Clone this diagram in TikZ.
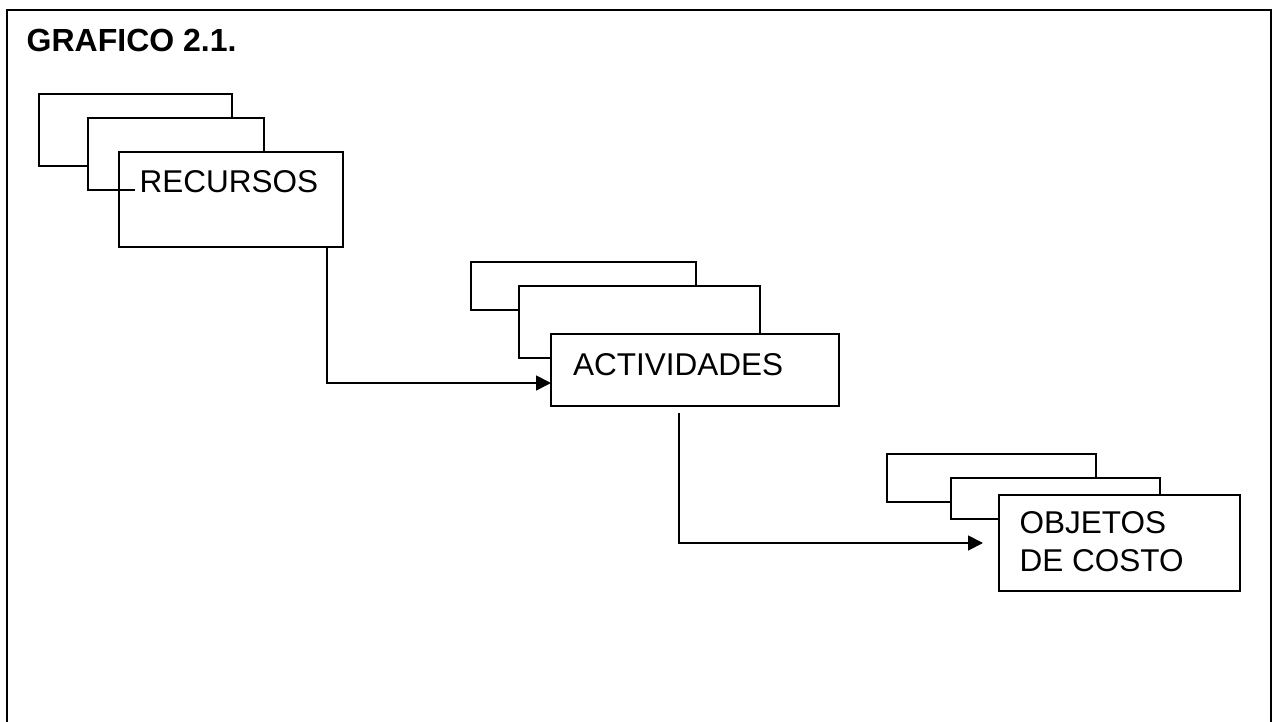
\documentclass[tikz,border=0pt]{standalone}
\usepackage{fontspec}
\setmainfont{Liberation Sans}
\usetikzlibrary{positioning, arrows.meta}
\tikzstyle{caja} = [rectangle, draw, line width=1.8pt, fill=white, inner sep=0pt, outer sep=0pt, anchor=north west]
\tikzstyle{texto} = [inner sep=0pt, anchor=base west, align=left, font=\fontsize{31.5}{38}\selectfont]
\tikzstyle{flecha} = [line width=1.8pt, -{Triangle[length=15pt,width=15pt]}]

\begin{document}
\begin{tikzpicture}[x=1pt, y=-1pt]
\useasboundingbox (0,0) rectangle (1277,722);
\draw [line width=2pt] (7,722) -- (7,10) -- (1271,10) -- (1271,722);

\node [texto, font=\fontsize{32}{38}\selectfont\bfseries] (titulo) at (26.5,52) {GRAFICO 2.1.};

\node [caja, minimum width=193pt, minimum height=72pt] (rec1) at (39,94) {};
\node [caja, minimum width=176pt, minimum height=72pt] (rec2) at (88,118) {};
\node [caja, minimum width=224pt, minimum height=95pt] (rec) at (119,152) {};
\draw [line width=1.8pt] (rec.west |- rec2.south) -- ++(16,0);
\node [texto] (rectxt) at ([xshift=20.5pt,yshift=-41pt]rec.north west) {RECURSOS};

\node [caja, minimum width=225pt, minimum height=48pt] (act1) at (471,262) {};
\node [caja, minimum width=241pt, minimum height=72pt] (act2) at (519,286) {};
\node [caja, minimum width=288pt, minimum height=72pt] (act) at (551,334) {};
\node [texto] (acttxt) at ([xshift=22pt,yshift=-41pt]act.north west) {ACTIVIDADES};

\node [caja, minimum width=209pt, minimum height=48pt] (obj1) at (887,454) {};
\node [caja, minimum width=209pt, minimum height=41pt] (obj2) at (951,478) {};
\node [caja, minimum width=241pt, minimum height=96pt] (obj) at (999,495) {};
\node [texto] (objtxt) at ([xshift=20.5pt,yshift=-76pt]obj.north west) {OBJETOS\\DE COSTO};

\draw [flecha] ([xshift=-16pt]rec.south east) |- ([yshift=-13pt]act.west);
\draw [flecha] ([xshift=128pt,yshift=-7pt]act.south west) |- ([xshift=-16pt]obj.west);

\end{tikzpicture}
\end{document}
